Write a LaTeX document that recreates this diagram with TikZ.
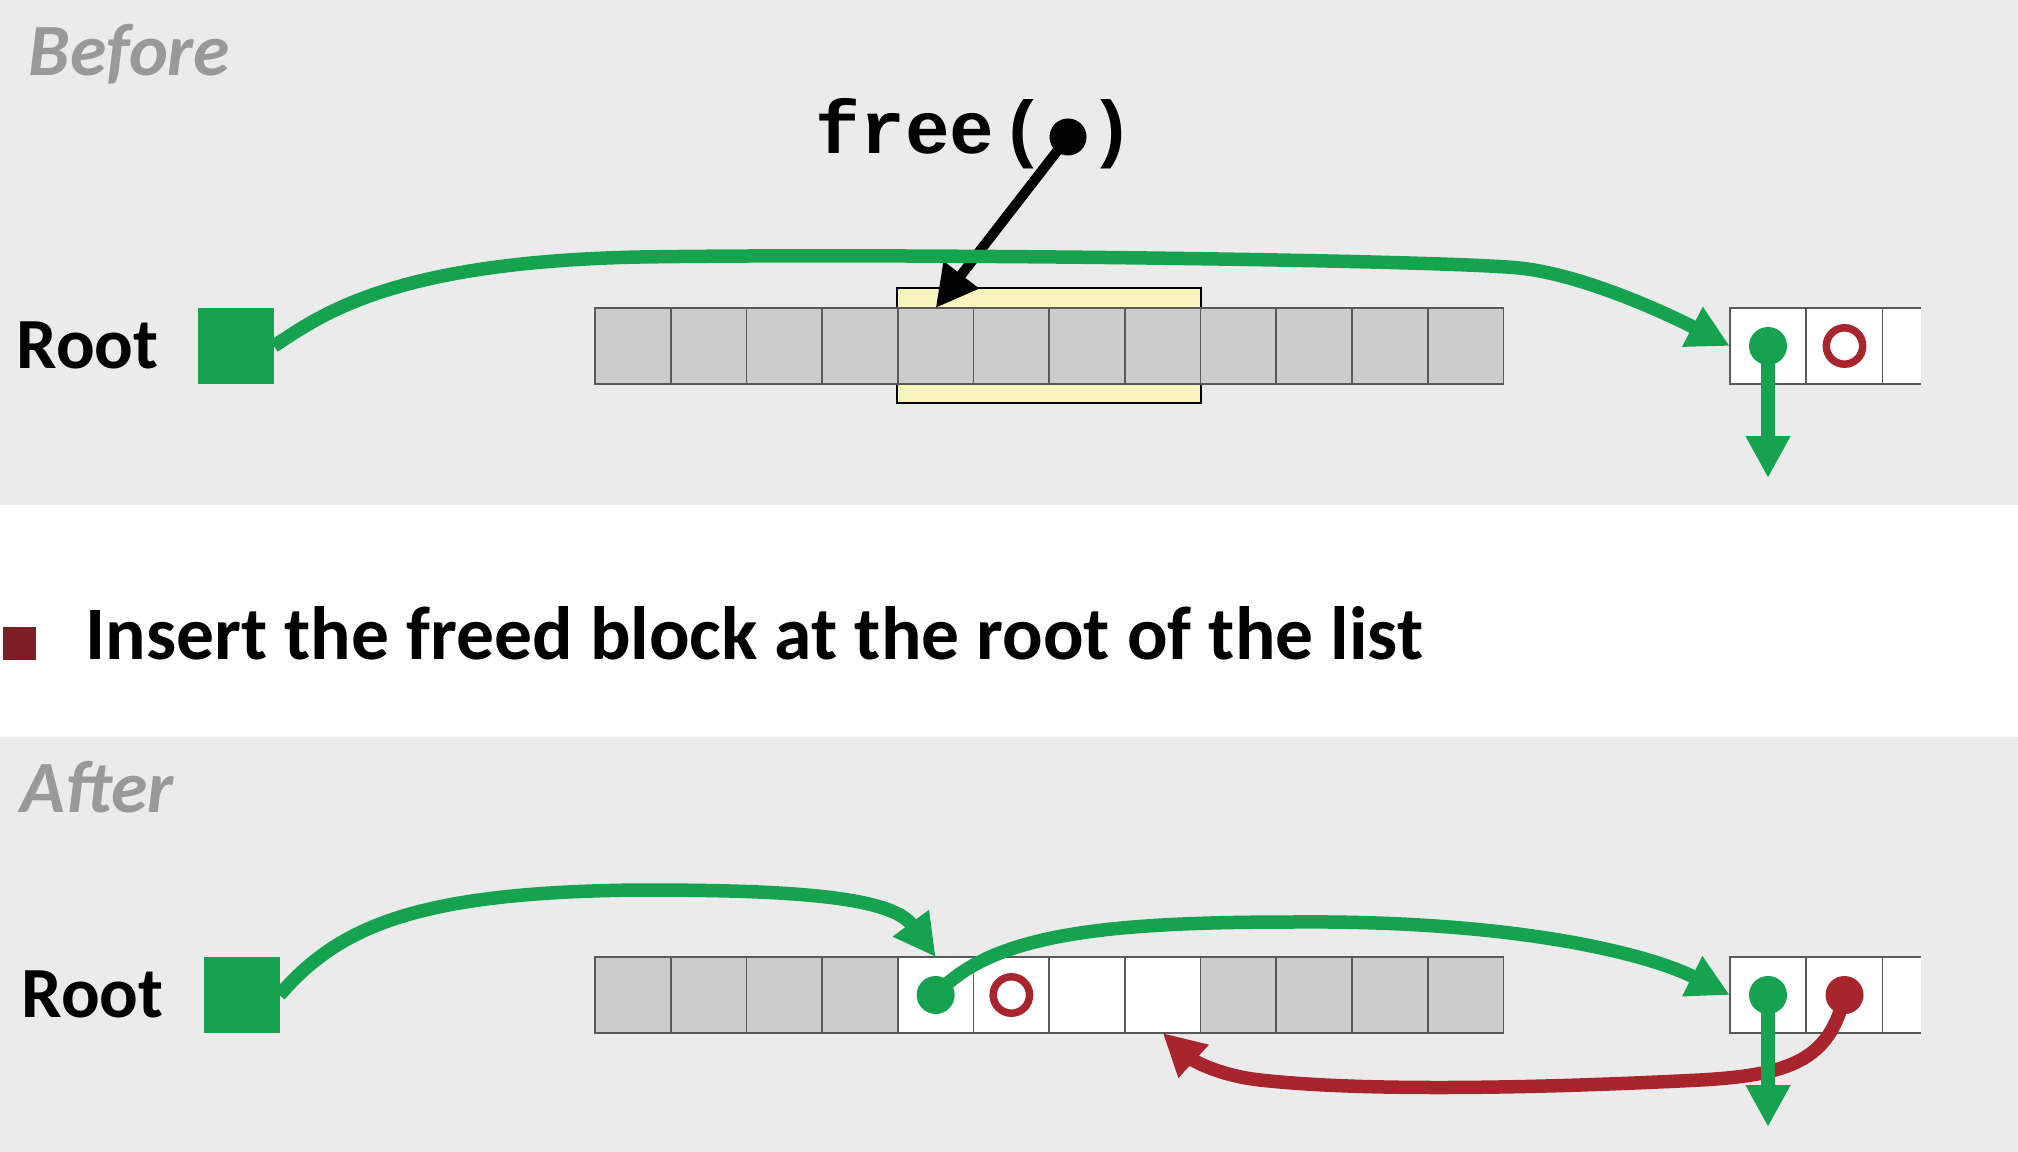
\documentclass[tikz,border=0pt]{standalone}
\usepackage{fontspec}
\setmainfont{Carlito}
\newfontfamily\codefont{Liberation Mono}
\usepackage{tikz}
\usetikzlibrary{arrows.meta,positioning}
\definecolor{panelgray}{HTML}{EBEBEB}
\definecolor{cellgray}{HTML}{CCCCCC}
\definecolor{linkgreen}{HTML}{16A34F}
\definecolor{linkred}{HTML}{A8252E}
\definecolor{freeyellow}{HTML}{F7F4BE}
\definecolor{bulletred}{HTML}{7B1F24}
\definecolor{labelgray}{HTML}{999999}

\begin{document}
\begin{tikzpicture}[
  cell/.style={draw=black!65,line width=0.5pt,minimum width=7.57mm,minimum height=7.6mm,inner sep=0pt,outer sep=0pt},
  spare/.style={cell,fill=white,minimum width=7.65mm},
  dot/.style={circle,fill=#1,minimum size=3.8mm,inner sep=0pt,outer sep=0pt},
  ring/.style={circle,draw=linkred,line width=0.75mm,minimum size=3.64mm,inner sep=0pt,outer sep=0pt},
  rootbox/.style={fill=linkgreen,minimum size=7.6mm,inner sep=0pt,outer sep=0pt},
  link/.style={line width=1.35mm,-{Triangle[length=4.2mm,width=4.2mm]}},
  heading/.style={anchor=base west,inner sep=0pt,text=labelgray,font=\fontsize{21}{25}\selectfont\bfseries\itshape},
  bigtext/.style={anchor=base west,inner sep=0pt,font=\fontsize{20.5}{25}\selectfont\bfseries}
]
% panels
\fill[panelgray] (0,0) rectangle (20.18,-5.05);
\fill[panelgray] (0,-7.37) rectangle (20.18,-11.52);
\useasboundingbox (0,0) rectangle (20.18,-11.52);

% before
\node[heading] (before) at (0.28,-0.76) {Before};
\node[bigtext] (rootname) at (0.16,-3.68) {Root};
\node[rootbox] (root) at (2.36,-3.46) {};
\node[draw=black,line width=0.7pt,fill=freeyellow,minimum width=3.04cm,minimum height=1.15cm,inner sep=0pt] (freed) at (10.49,-3.455) {};
\foreach \i in {1,...,12}
  \node[cell,fill=cellgray] (a\i) at ({5.95+0.757*(\i-0.5)},-3.46) {};
\node[spare] (an1) at (17.68,-3.46) {};
\node[spare,right=0pt of an1] (an2) {};
\fill[white] (an2.north east) rectangle ++(0.38,-0.76);
\draw[black!65,line width=0.5pt] (an2.north east) -- ++(0.38,0) (an2.south east) -- ++(0.38,0);
\node[dot=linkgreen] (anext) at (an1.center) {};
\node[ring] (aprev) at (an2.center) {};

\node[bigtext,font=\codefont\bfseries\fontsize{21.2}{25}\selectfont] (call) at (8.15,-1.53) {free\kern0.08em(\hphantom{)})};
\node[dot=black,minimum size=3.7mm] (arg) at (10.68,-1.37) {};
\draw[link,line width=1mm] (arg.center) -- (a5.north);

\draw[link,linkgreen] (root.east) .. controls (3.20,-3.16) and (3.90,-2.62) .. (6.40,-2.57)
  .. controls (9.00,-2.53) and (14.39,-2.60) .. (15.19,-2.68)
  .. controls (15.79,-2.74) and (16.60,-3.10) .. (an1.west);
\coordinate (anil) at (17.68,-4.78);
\draw[link,linkgreen] (anext.center) -- (anil);

% bullet
\node[fill=bulletred,minimum size=3.3mm,inner sep=0pt] (bullet) at (0.195,-6.435) {};
\node[bigtext,font=\fontsize{21.5}{25}\selectfont\bfseries] (insert) at (0.85,-6.59) {Insert the freed block at the root of the list};

% after
\node[heading] (after) at (0.20,-8.12) {After};
\node[bigtext] (rootname2) at (0.21,-10.17) {Root};
\node[rootbox] (root2) at (2.415,-9.95) {};
\foreach \c [count=\i] in {cellgray,cellgray,cellgray,cellgray,white,white,white,white,cellgray,cellgray,cellgray,cellgray}
  \node[cell,fill=\c] (b\i) at ({5.95+0.757*(\i-0.5)},-9.95) {};
\node[dot=linkgreen] (bnext) at (b5.center) {};
\node[ring] (bprev) at (b6.center) {};
\node[spare] (bn1) at (17.68,-9.95) {};
\node[spare,right=0pt of bn1] (bn2) {};
\fill[white] (bn2.north east) rectangle ++(0.38,-0.76);
\draw[black!65,line width=0.5pt] (bn2.north east) -- ++(0.38,0) (bn2.south east) -- ++(0.38,0);
\node[dot=linkgreen] (bn1next) at (bn1.center) {};
\node[dot=linkred] (bn2prev) at (bn2.center) {};

\draw[link,linkgreen] (root2.east) .. controls (3.40,-9.25) and (4.20,-8.92) .. (6.40,-8.90)
  .. controls (7.80,-8.90) and (8.90,-8.95) .. (b5.north);
\draw[link,linkgreen] (bnext.center) .. controls (9.90,-9.35) and (11.00,-9.22) .. (12.92,-9.22)
  .. controls (15.20,-9.20) and (16.50,-9.55) .. (bn1.west);
\draw[link,linkred] (bn2prev.center) .. controls (18.30,-10.60) and (17.90,-10.75) .. (17.00,-10.80)
  .. controls (15.00,-10.90) and (13.50,-10.90) .. (12.60,-10.80)
  .. controls (12.15,-10.75) and (11.90,-10.58) .. (b8.south);
\coordinate (bnil) at (17.68,-11.27);
\draw[link,linkgreen] (bn1next.center) -- (bnil);
\end{tikzpicture}
\end{document}
